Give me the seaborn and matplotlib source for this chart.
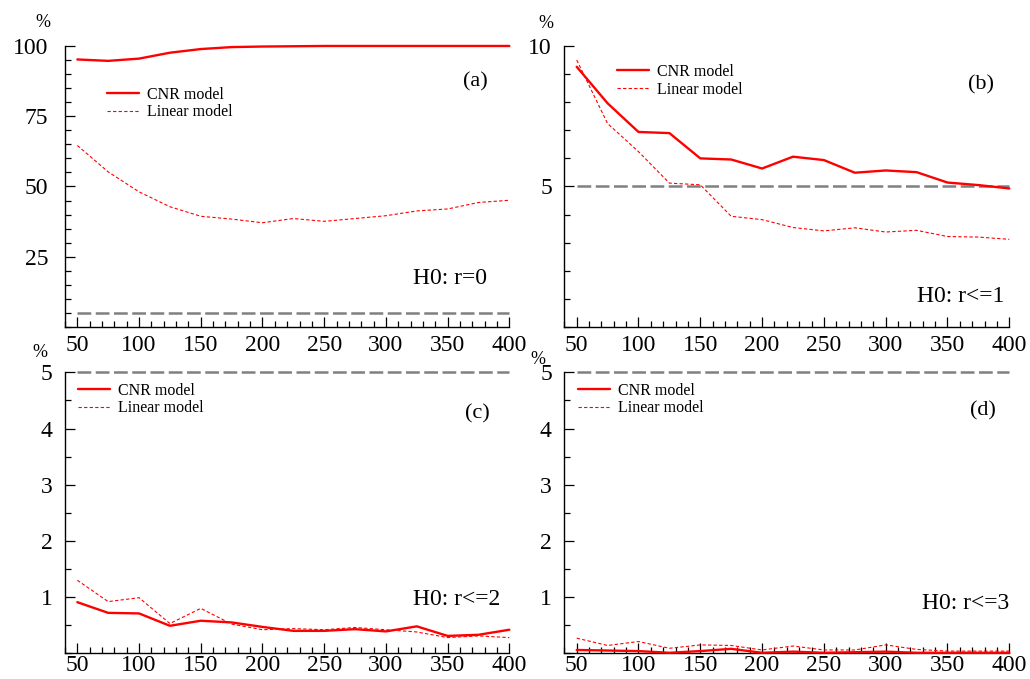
import matplotlib
matplotlib.use("Agg")
import matplotlib.pyplot as plt
import seaborn as sns
from matplotlib.ticker import MultipleLocator, FixedLocator

# ---- data ----
sample_sizes = [50, 75, 100, 125, 150, 175, 200, 225, 250, 275, 300, 325, 350, 375, 400]

cnr_a = [95.2, 94.7, 95.5, 97.6, 98.9, 99.6, 99.8, 99.9, 100, 100, 100, 100, 100, 100, 100]
lin_a = [64.6, 55.2, 48.1, 42.8, 39.4, 38.4, 37.1, 38.6, 37.6, 38.6, 39.6, 41.3, 42.0, 44.3, 45.1]

cnr_b = [9.26, 7.96, 6.94, 6.90, 6.00, 5.96, 5.64, 6.06, 5.94, 5.49, 5.57, 5.51, 5.14, 5.05, 4.93]
lin_b = [9.50, 7.24, 6.24, 5.12, 5.06, 3.94, 3.82, 3.54, 3.42, 3.53, 3.38, 3.44, 3.22, 3.20, 3.12]

cnr_c = [0.91, 0.72, 0.71, 0.49, 0.58, 0.55, 0.47, 0.40, 0.40, 0.43, 0.39, 0.48, 0.31, 0.33, 0.42]
lin_c = [1.30, 0.92, 0.99, 0.53, 0.80, 0.52, 0.42, 0.44, 0.42, 0.46, 0.42, 0.38, 0.28, 0.31, 0.28]

cnr_d = [0.06, 0.05, 0.04, 0.01, 0.04, 0.08, 0.01, 0.03, 0.01, 0.02, 0.03, 0.01, 0.01, 0.01, 0.01]
lin_d = [0.27, 0.14, 0.21, 0.09, 0.15, 0.14, 0.06, 0.13, 0.06, 0.06, 0.15, 0.07, 0.04, 0.04, 0.04]

nominal_level = 5
panel_tags = ["(a)", "(b)", "(c)", "(d)"]
hypotheses = ["H0: r=0", "H0: r<=1", "H0: r<=2", "H0: r<=3"]
series_labels = ["CNR model", "Linear model"]
x_ticks = [50, 100, 150, 200, 250, 300, 350, 400]

# ---- style ----
sns.set_theme(style="white")
plt.rcParams["font.family"] = ["Liberation Serif", "DejaVu Serif"]
plt.rcParams["text.color"] = "black"
plt.rcParams["legend.labelcolor"] = "black"

fig = plt.figure(figsize=(10.3, 6.79), dpi=100)

panels = [
    dict(rect=[0.0631, 0.5184, 0.4314, 0.4139], cnr=cnr_a, lin=lin_a, ylim=(0, 100),
         yticks=[25, 50, 75, 100], yminor=5, ypad=12, xpad=6,
         tag=(0.923, 0.872), hyp=(0.950, 0.174), pct=(-0.050, 1.085), leg=(0.095, 0.796)),
    dict(rect=[0.5479, 0.5184, 0.4320, 0.4139], cnr=cnr_b, lin=lin_b, ylim=(0, 10),
         yticks=[5, 10], yminor=1, ypad=9, xpad=6,
         tag=(0.936, 0.861), hyp=(0.988, 0.107), pct=(-0.041, 1.080), leg=(0.118, 0.876)),
    dict(rect=[0.0631, 0.0378, 0.4314, 0.4139], cnr=cnr_c, lin=lin_c, ylim=(0, 5),
         yticks=[1, 2, 3, 4, 5], yminor=0.5, ypad=9, xpad=1,
         tag=(0.928, 0.852), hyp=(0.980, 0.193), pct=(-0.056, 1.072), leg=(0.029, 0.903)),
    dict(rect=[0.5479, 0.0378, 0.4320, 0.4139], cnr=cnr_d, lin=lin_d, ylim=(0, 5),
         yticks=[1, 2, 3, 4, 5], yminor=0.5, ypad=9, xpad=1,
         tag=(0.941, 0.862), hyp=(1.001, 0.179), pct=(-0.060, 1.044), leg=(0.031, 0.903)),
]

for i, p in enumerate(panels):
    ax = fig.add_axes(p["rect"])
    ax.set_facecolor("white")
    # nominal 5% level
    ax.hlines(nominal_level, sample_sizes[0], sample_sizes[-1], colors="#808080",
              linewidth=1.8, linestyles=(0, (5.5, 1.8)), zorder=1, clip_on=False)
    sns.lineplot(x=sample_sizes, y=p["cnr"], ax=ax, color="#ff0000", linewidth=1.7,
                 label=series_labels[0], zorder=3, clip_on=False)
    sns.lineplot(x=sample_sizes, y=p["lin"], ax=ax, color="#ff0000", linewidth=0.8,
                 label=series_labels[1], zorder=3, clip_on=False)
    ax.lines[-1].set_dashes([3, 2])

    ax.set_xlim(40, 400)
    ax.set_ylim(*p["ylim"])
    ax.xaxis.set_major_locator(FixedLocator(x_ticks))
    ax.xaxis.set_minor_locator(MultipleLocator(10))
    ax.yaxis.set_major_locator(FixedLocator(p["yticks"]))
    ax.yaxis.set_minor_locator(MultipleLocator(p["yminor"]))
    ax.tick_params(which="both", direction="in", color="black", width=0.9,
                   bottom=True, left=True, top=False, right=False)
    ax.tick_params(which="major", length=7, labelsize=17, labelcolor="black")
    ax.tick_params(which="minor", length=4)
    ax.tick_params(axis="x", which="major", pad=p["xpad"])
    ax.tick_params(axis="y", which="major", pad=p["ypad"])
    for s in ["top", "right"]:
        ax.spines[s].set_visible(False)
    for s in ["left", "bottom"]:
        ax.spines[s].set_color("black")
        ax.spines[s].set_linewidth(1.0)
    ax.set_xlabel("")
    ax.set_ylabel("")
    ax.grid(False)

    handles = ax.lines[-2:]
    ax.legend(handles, series_labels, loc="center left", bbox_to_anchor=p["leg"],
              frameon=False, fontsize=11.5, handlelength=2.0, handletextpad=0.5,
              labelspacing=0.1, borderpad=0, borderaxespad=0, labelcolor="black")

    ax.text(p["tag"][0], p["tag"][1], panel_tags[i], transform=ax.transAxes,
            ha="center", va="center", fontsize=16, color="black")
    ax.text(p["hyp"][0], p["hyp"][1], hypotheses[i], transform=ax.transAxes,
            ha="right", va="center", fontsize=17, color="black")
    ax.text(p["pct"][0], p["pct"][1], "%", transform=ax.transAxes,
            ha="center", va="center", fontsize=13, color="black")

fig.savefig("out.png", dpi=100)
